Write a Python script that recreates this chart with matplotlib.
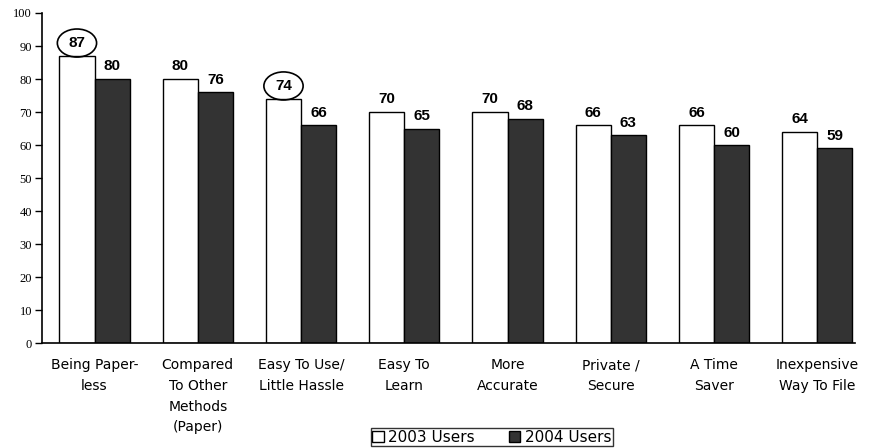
import matplotlib.pyplot as plt
from matplotlib.patches import Ellipse, Patch
import numpy as np

categories = ['Being Paper-\nless', 'Compared\nTo Other\nMethods\n(Paper)',
              'Easy To Use/\nLittle Hassle', 'Easy To\nLearn', 'More\nAccurate',
              'Private /\nSecure', 'A Time\nSaver', 'Inexpensive\nWay To File']
users_2003 = [87, 80, 74, 70, 70, 66, 66, 64]
users_2004 = [80, 76, 66, 65, 68, 63, 60, 59]
circled = [0, 2]

fig = plt.figure(figsize=(8.72, 4.48), dpi=100)
ax = fig.add_axes([0.048, 0.234, 0.932, 0.737])

x = np.arange(len(categories))
w = 0.34
b1 = ax.bar(x - w / 2, users_2003, w, color='white', edgecolor='black', linewidth=1)
b2 = ax.bar(x + w / 2, users_2004, w, color='#333333', edgecolor='black', linewidth=1)

for xi, v in zip(x - w / 2, users_2003):
    ax.annotate(str(v), (xi, v), xytext=(0, 4), textcoords='offset points',
                ha='center', va='bottom', fontsize=11, fontweight='bold',
                family='Liberation Sans')
for xi, v in zip(x + w / 2, users_2004):
    ax.annotate(str(v), (xi, v), xytext=(0, 4), textcoords='offset points',
                ha='center', va='bottom', fontsize=11, fontweight='bold',
                family='Liberation Sans')

for i in circled:
    ax.add_patch(Ellipse((x[i] - w / 2, users_2003[i] + 3.9), 0.38, 8.5,
                         fill=False, edgecolor='black', linewidth=1.2, clip_on=False))

ax.set_ylim(0, 100)
ax.set_xlim(-0.51, 7.36)
ax.set_yticks(range(0, 101, 10))
ax.set_yticklabels([str(t) for t in range(0, 101, 10)], family='Liberation Serif', fontsize=9)
ax.tick_params(axis='y', length=5, width=1, pad=2)
ax.set_xticks(x)
ax.set_xticklabels(categories, fontsize=10, family='DejaVu Sans', linespacing=1.6)
ax.tick_params(axis='x', length=0, pad=11)
for lab in ax.get_xticklabels():
    lab.set_verticalalignment('top')

ax.spines['top'].set_visible(False)
ax.spines['right'].set_visible(False)
ax.spines['left'].set_linewidth(1.2)
ax.spines['bottom'].set_linewidth(1.2)

handles = [Patch(facecolor='white', edgecolor='black', label='2003 Users'),
           Patch(facecolor='#333333', edgecolor='black', label='2004 Users')]
leg = fig.legend(handles=handles, loc='center', bbox_to_anchor=(0.564, 0.024), ncol=2,
                 frameon=True, fancybox=False, edgecolor='black',
                 handlelength=0.75, handleheight=0.75, handletextpad=0.3,
                 columnspacing=2.2, borderpad=0.1, borderaxespad=0,
                 prop={'family': 'DejaVu Sans', 'size': 11})
leg.get_frame().set_linewidth(1)

fig.savefig('out.png', dpi=100)
